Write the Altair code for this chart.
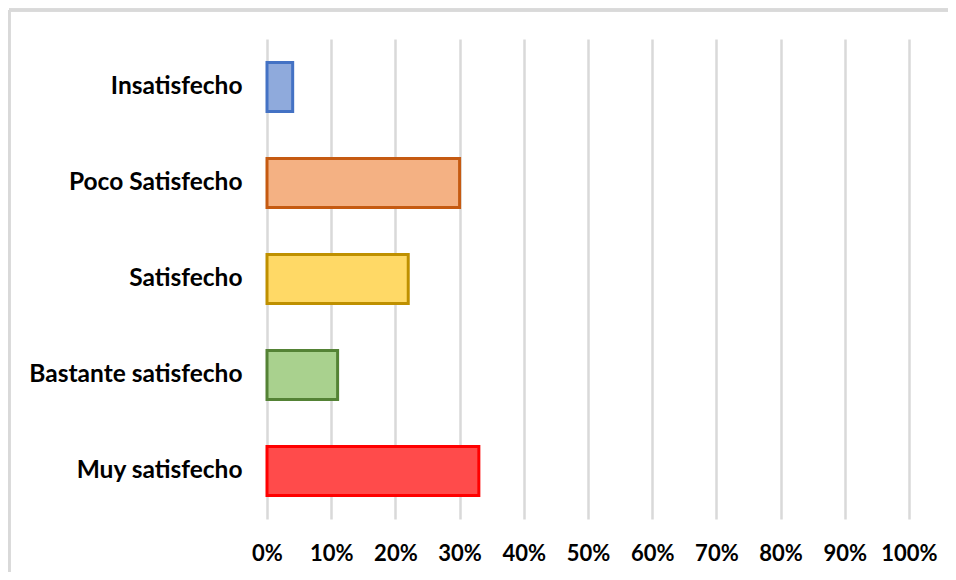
import altair as alt
import pandas as pd

categories = ["Insatisfecho", "Poco Satisfecho", "Satisfecho", "Bastante satisfecho", "Muy satisfecho"]
values = [0.04, 0.30, 0.22, 0.11, 0.33]
fills = ["#8FAADC", "#F4B183", "#FFD966", "#A9D18E", "#FF4B4B"]
strokes = ["#4472C4", "#C55A11", "#BF9000", "#548235", "#FF0000"]
tick_values = [0, 0.1, 0.2, 0.3, 0.4, 0.5, 0.6, 0.7, 0.8, 0.9, 1.0]

df = pd.DataFrame({"cat": categories, "val": values, "fill": fills, "stroke": strokes})

FONT = "Lato"

bars = alt.Chart(df).mark_bar(strokeWidth=3).encode(
    y=alt.Y("cat:N", sort=categories, title=None,
            scale=alt.Scale(paddingInner=0.49, paddingOuter=0.245),
            axis=alt.Axis(labelFont=FONT, labelFontSize=24.5, labelFontWeight="bold",
                          labelColor="#000000", labelPadding=25, ticks=False,
                          domain=False, labelLimit=400)),
    x=alt.X("val:Q", title=None,
            scale=alt.Scale(domain=[0, 1], nice=False),
            axis=alt.Axis(values=tick_values, format=".0%", labelFont=FONT,
                          labelFontSize=22, labelFontWeight="bold", labelColor="#000000",
                          labelPadding=24, ticks=False, domain=False,
                          grid=True, gridColor="#D9D9D9", gridWidth=2.5,
                          labelFlush=False)),
    fill=alt.Fill("fill:N", scale=None),
    stroke=alt.Stroke("stroke:N", scale=None),
)

frame_top = alt.Chart(df).mark_rule(stroke="#D9D9D9", strokeWidth=3).encode(
    x=alt.value(-258), x2=alt.value(1000), y=alt.value(-29),
)
frame_left = alt.Chart(df).mark_rule(stroke="#D9D9D9", strokeWidth=3).encode(
    x=alt.value(-258), y=alt.value(-29), y2=alt.value(700),
)

chart = alt.layer(frame_top, frame_left, bars).properties(
    width=642, height=480,
    padding={"left": 259, "top": 31, "right": 39, "bottom": 53},
    autosize=alt.AutoSizeParams(type="none"),
).configure_view(stroke=None)

chart.save("out.html", embed_options={"renderer": "svg", "actions": False})
